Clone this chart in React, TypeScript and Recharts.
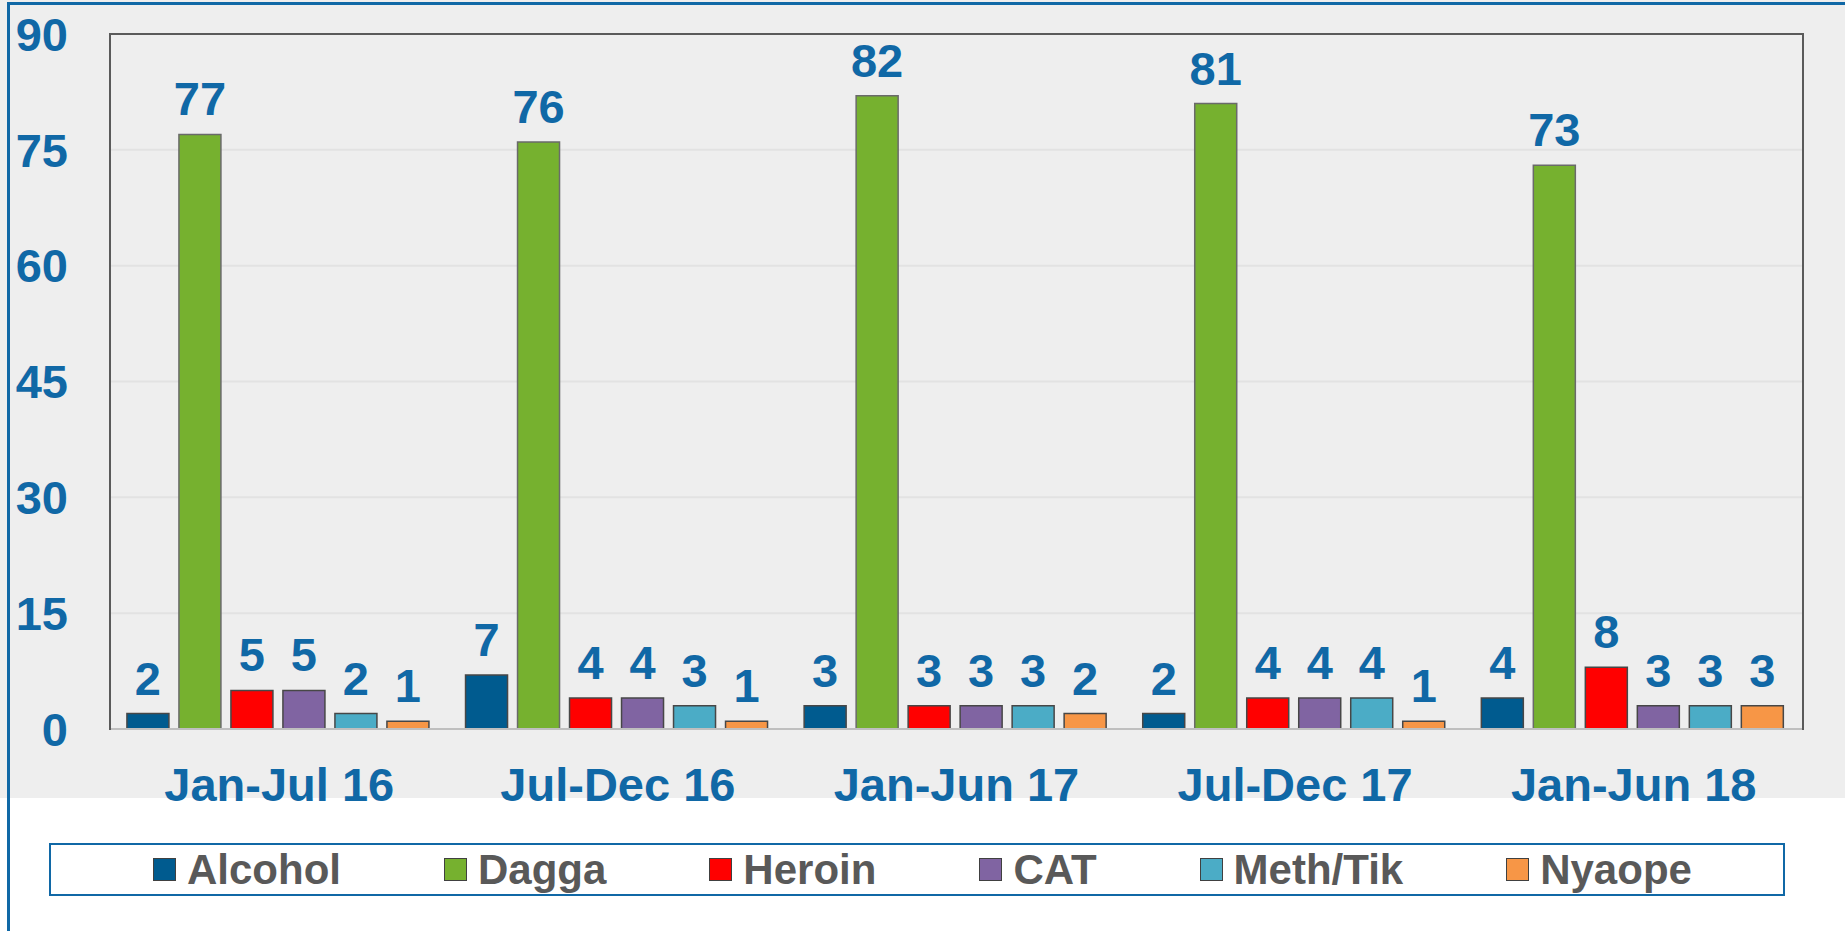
import { BarChart, Bar, XAxis, YAxis, CartesianGrid, LabelList } from "recharts";

const PERIODS = ["Jan-Jul 16", "Jul-Dec 16", "Jan-Jun 17", "Jul-Dec 17", "Jan-Jun 18"];

const ALCOHOL = [2, 7, 3, 2, 4];
const DAGGA = [77, 76, 82, 81, 73];
const HEROIN = [5, 4, 3, 4, 8];
const CAT = [5, 4, 3, 4, 3];
const METH = [2, 3, 3, 4, 3];
const NYAOPE = [1, 1, 2, 1, 3];

const Y_TICKS = [0, 15, 30, 45, 60, 75, 90];

const SERIES = [
  { key: "alcohol", name: "Alcohol", color: "#005b8f", values: ALCOHOL },
  { key: "dagga", name: "Dagga", color: "#76b12f", values: DAGGA },
  { key: "heroin", name: "Heroin", color: "#ff0000", values: HEROIN },
  { key: "cat", name: "CAT", color: "#8064a2", values: CAT },
  { key: "meth", name: "Meth/Tik", color: "#4bacc6", values: METH },
  { key: "nyaope", name: "Nyaope", color: "#f79646", values: NYAOPE },
];

const BLUE = "#1068a6";
const FONT = "'Liberation Sans', Arial, sans-serif";

const data = PERIODS.map((p, i) => {
  const row: Record<string, string | number> = { period: p };
  SERIES.forEach((s) => { row[s.key] = s.values[i]; });
  return row;
});

function LegendBox() {
  return (
    <div
      style={{
        position: "absolute", left: 49, top: 843, width: 1736, height: 53,
        boxSizing: "border-box", border: `2px solid ${BLUE}`, background: "#fff",
        display: "flex", alignItems: "center", justifyContent: "flex-start", gap: 103,
        paddingLeft: 102,
        fontFamily: FONT, fontWeight: "bold", fontSize: 42, color: "#595959",
      }}
    >
      {SERIES.map((s) => (
        <div key={s.key} style={{ display: "flex", alignItems: "center", gap: 11 }}>
          <span
            style={{
              width: 23, height: 23, boxSizing: "border-box",
              background: s.color, border: "1.5px solid #404040", display: "inline-block",
            }}
          />
          <span style={{ lineHeight: 1 }}>{s.name}</span>
        </div>
      ))}
    </div>
  );
}

export default function App() {
  return (
    <div style={{ position: "absolute", left: 0, top: 0, width: 1845, height: 931, background: "#fff", overflow: "hidden" }}>
      <div style={{ position: "absolute", left: 0, top: 0, width: 1845, height: 798, background: "#eeeeee" }} />
      <div style={{ position: "absolute", left: 7, top: 2, width: 1838, height: 3, background: BLUE }} />
      <div style={{ position: "absolute", left: 7, top: 2, width: 3, height: 929, background: BLUE }} />

      <div style={{ position: "absolute", left: 0, top: 0 }}>
        <BarChart
          width={1845}
          height={931}
          data={data}
          margin={{ top: 34, right: 42, bottom: 122, left: 10 }}
          barCategoryGap="5%"
          barGap={10}
        >
          <CartesianGrid vertical={false} stroke="#e2e2e2" strokeWidth={2} />
          <XAxis
            dataKey="period"
            height={80}
            tickLine={false}
            axisLine={{ stroke: "#bfbfbf", strokeWidth: 2 }}
            tickMargin={33}
            tick={{ fill: BLUE, fontSize: 47, fontWeight: "bold", fontFamily: FONT }}
          />
          <YAxis
            width={100}
            domain={[0, 90]}
            ticks={Y_TICKS}
            interval={0}
            axisLine={false}
            tickLine={false}
            tickSize={0}
            tickMargin={42}
            tick={{ fill: BLUE, fontSize: 47, fontWeight: "bold", fontFamily: FONT }}
          />
          {SERIES.map((s) => (
            <Bar
              key={s.key}
              dataKey={s.key}
              name={s.name}
              fill={s.color}
              stroke={s.key === "dagga" ? "#6a6a6a" : "#474747"}
              strokeWidth={1.5}
              isAnimationActive={false}
            >
              <LabelList
                dataKey={s.key}
                position="top"
                offset={19}
                fill={BLUE}
                fontSize={47}
                fontWeight="bold"
                fontFamily={FONT}
              />
            </Bar>
          ))}
        </BarChart>
      </div>

      <div
        style={{
          position: "absolute", left: 109, top: 33, width: 1695, height: 697,
          boxSizing: "border-box", borderTop: "2px solid #5a5a5a",
          borderLeft: "2px solid #5a5a5a", borderRight: "2px solid #5a5a5a",
          pointerEvents: "none",
        }}
      />

      <LegendBox />
    </div>
  );
}
